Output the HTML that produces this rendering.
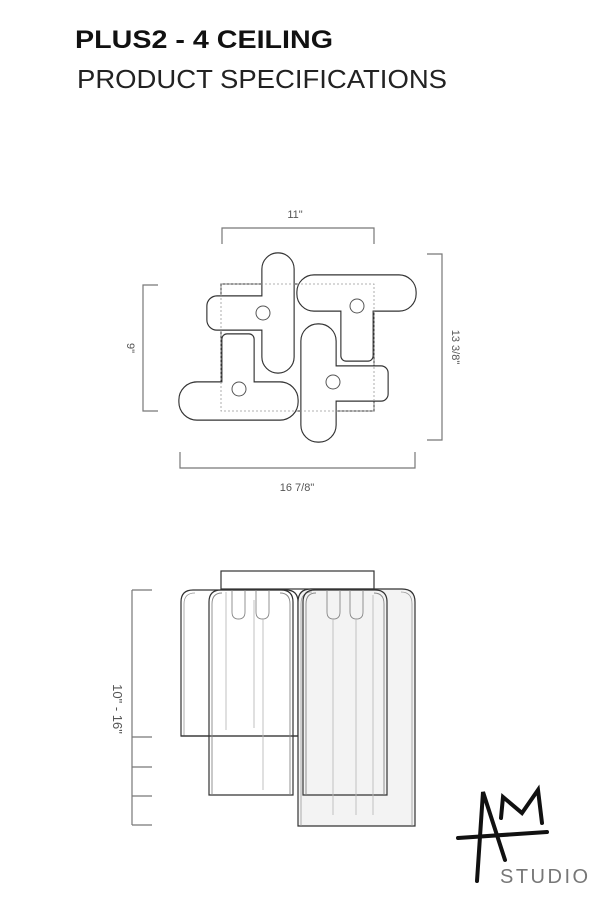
<!DOCTYPE html>
<html><head><meta charset="utf-8"><style>
html,body{margin:0;padding:0;background:#fff}
svg{display:block}
</style></head><body>
<svg width="600" height="900" viewBox="0 0 600 900" xmlns="http://www.w3.org/2000/svg" font-family="Liberation Sans, sans-serif">
<text x="75" y="48" font-size="25" font-weight="bold" fill="#111" textLength="258" lengthAdjust="spacingAndGlyphs">PLUS2 - 4  CEILING</text>
<text x="77" y="88" font-size="26" fill="#222" textLength="370" lengthAdjust="spacingAndGlyphs">PRODUCT SPECIFICATIONS</text>

<g stroke="#777" stroke-width="1.2" fill="none">
<polyline points="222,244 222,228 374,228 374,244"/>
<polyline points="158,285 143,285 143,411 158,411"/>
<polyline points="427,254 442,254 442,440 427,440"/>
<polyline points="180,452 180,468 415,468 415,452"/>
</g>
<g font-size="11" fill="#555" text-anchor="middle">
<text x="295" y="218">11"</text>
<text x="297" y="491">16 7/8"</text>
<text transform="translate(127,348) rotate(90)">9"</text>
<text transform="translate(452,347) rotate(90)">13 3/8"</text>
</g>

<rect x="221" y="284" width="153" height="127" fill="none" stroke="#333" stroke-width="1"/>

<g stroke="#333" stroke-width="3.4" fill="#fff">
<rect x="263" y="254" width="30" height="118" rx="15"/>
<rect x="208" y="297" width="70" height="32" rx="9"/>
<rect x="298" y="276" width="117" height="34" rx="16"/>
<rect x="342" y="300" width="30" height="60" rx="4"/>
<rect x="223" y="335" width="30" height="60" rx="4"/>
<rect x="180" y="383" width="117" height="36" rx="17"/>
<rect x="302" y="325" width="33" height="116" rx="16"/>
<rect x="320" y="367" width="67" height="33" rx="6"/>
</g>
<g stroke="#fff" stroke-width="1.1" fill="#fff">
<rect x="263" y="254" width="30" height="118" rx="15"/>
<rect x="208" y="297" width="70" height="32" rx="9"/>
<rect x="298" y="276" width="117" height="34" rx="16"/>
<rect x="342" y="300" width="30" height="60" rx="4"/>
<rect x="223" y="335" width="30" height="60" rx="4"/>
<rect x="180" y="383" width="117" height="36" rx="17"/>
<rect x="302" y="325" width="33" height="116" rx="16"/>
<rect x="320" y="367" width="67" height="33" rx="6"/>
</g>
<rect x="221" y="284" width="153" height="127" fill="none" stroke="#999" stroke-width="0.8" stroke-dasharray="2,2"/>
<g fill="none" stroke="#555" stroke-width="1">
<circle cx="263" cy="313" r="7"/>
<circle cx="357" cy="306" r="7"/>
<circle cx="239" cy="389" r="7"/>
<circle cx="333" cy="382" r="7"/>
</g>

<g stroke="#777" stroke-width="1.2" fill="none">
<line x1="132" y1="590" x2="132" y2="825"/>
<line x1="132" y1="590" x2="152" y2="590"/>
<line x1="132" y1="737" x2="152" y2="737"/>
<line x1="132" y1="767" x2="152" y2="767"/>
<line x1="132" y1="796" x2="152" y2="796"/>
<line x1="132" y1="825" x2="152" y2="825"/>
</g>
<text transform="translate(113,709) rotate(90)" font-size="13" fill="#555" text-anchor="middle">10" - 16"</text>

<rect x="221" y="571" width="153" height="18" fill="#fff" stroke="#333" stroke-width="1.2"/>
<g stroke="#333" stroke-width="1.2">
<path d="M181,736 V602 Q181,590 193,590 H286 Q298,590 298,602 V736 Z" fill="#fff"/>
<path d="M298,826 V602 Q298,589 311,589 H402 Q415,589 415,602 V826 Z" fill="#f3f3f3"/>
</g>
<g stroke="#999" stroke-width="0.8" fill="none">
<path d="M184,736 V604 Q184,593 195,593"/>
<path d="M301,826 V604 Q301,592 312,592"/>
<path d="M412,826 V604 Q412,592 401,592"/>
</g>
<g stroke="#333" stroke-width="1.2" fill="none">
<path d="M209,795 V602 Q209,590 221,590 H281 Q293,590 293,602 V795 Z" fill="rgba(255,255,255,0.4)"/>
<path d="M303,795 V602 Q303,590 315,590 H375 Q387,590 387,602 V795 Z"/>
<line x1="181" y1="736" x2="298" y2="736"/>
</g>
<g stroke="#888" stroke-width="0.9" fill="none">
<path d="M212,795 V604 Q212,593 222,593"/>
<path d="M290,795 V604 Q290,593 280,593"/>
<path d="M306,795 V604 Q306,593 316,593"/>
<path d="M384,795 V604 Q384,593 374,593"/>
<path d="M232,590 V612 Q232,619 238.5,619 Q245,619 245,612 V590"/>
<path d="M256,590 V612 Q256,619 262.5,619 Q269,619 269,612 V590"/>
<path d="M327,590 V612 Q327,619 333.5,619 Q340,619 340,612 V590"/>
<path d="M350,590 V612 Q350,619 356.5,619 Q363,619 363,612 V590"/>
</g>
<g stroke="#bbb" stroke-width="0.9">
<line x1="226" y1="592" x2="226" y2="730"/>
<line x1="254" y1="600" x2="254" y2="728"/>
<line x1="263" y1="619" x2="263" y2="790"/>
<line x1="333" y1="619" x2="333" y2="815"/>
<line x1="356" y1="619" x2="356" y2="815"/>
<line x1="373" y1="595" x2="373" y2="815"/>
</g>

<g stroke="#111" stroke-width="4" stroke-linecap="round" fill="none">
<path d="M477,881 L483,792 L505,860"/>
<path d="M458,838 L547,832"/>
<path d="M501,818 L503,797 L522,813 L538,790 L542,823"/>
</g>
<text x="500" y="883" font-size="20" fill="#777" letter-spacing="2.5">STUDIO</text>
</svg>
</body></html>
